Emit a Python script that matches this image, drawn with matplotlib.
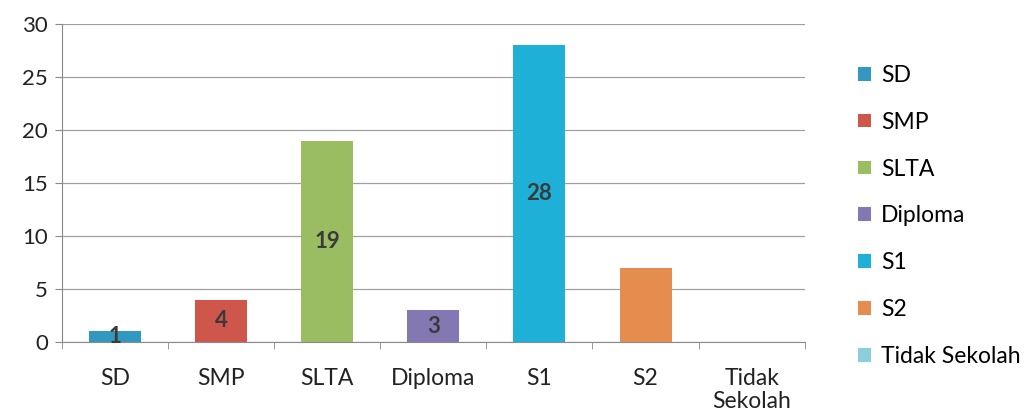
import numpy as np
import matplotlib
matplotlib.use("Agg")
import matplotlib.pyplot as plt
from matplotlib.patches import Patch

plt.rcParams['font.family'] = ['Lato', 'DejaVu Sans']

# data
categories = ["SD", "SMP", "SLTA", "Diploma", "S1", "S2", "Tidak Sekolah"]
tick_labels = ["SD", "SMP", "SLTA", "Diploma", "S1", "S2", "Tidak\nSekolah"]
values = [1, 4, 19, 3, 28, 7, 0]
shown_labels = ["1", "4", "19", "3", "28", "", ""]
colors = ["#3398c0", "#cf564a", "#9bbd62", "#8478b2", "#1eb0d6", "#e58d4e", "#8ccfdc"]

fig = plt.figure(figsize=(10.33, 4.12), dpi=100)
ax = fig.add_axes([0.060, 0.170, 0.719, 0.772])

x = np.arange(len(categories))
bars = ax.bar(x, values, width=0.49, color=colors, zorder=3)

for b, lab in zip(bars, shown_labels):
    if lab:
        ax.text(b.get_x() + b.get_width() / 2, b.get_height() / 2, lab,
                ha="center", va="center", fontsize=16, color="#3a3a3a",
                fontweight="bold", zorder=4)

ax.set_xlim(-0.5, len(categories) - 0.5)
ax.set_ylim(0, 30)
ax.set_yticks(range(0, 31, 5))
ax.yaxis.grid(True, color="#a0a0a0", linewidth=0.9, zorder=0)
ax.set_axisbelow(True)

ax.set_xticks(x)
ax.set_xticklabels(tick_labels, fontsize=16.5, color="#222222", linespacing=1.08)
ax.tick_params(axis="x", length=0, pad=19)
ax.set_xticks(np.arange(-0.5, len(categories), 1), minor=True)
ax.tick_params(axis="x", which="minor", length=5, color="#8a8a8a")
ax.tick_params(axis="y", labelsize=16, labelcolor="#222222", length=5,
               color="#8a8a8a", pad=5)

for s in ["top", "right"]:
    ax.spines[s].set_visible(False)
ax.spines["left"].set_color("#8a8a8a")
ax.spines["bottom"].set_color("#8a8a8a")

handles = [Patch(facecolor=c, label=n) for c, n in zip(colors, categories)]
fig.legend(handles=handles, loc="upper left", bbox_to_anchor=(0.822, 0.865),
           frameon=False, fontsize=16.5, handlelength=0.55, handleheight=0.55,
           handletextpad=0.45, labelspacing=1.13, borderaxespad=0)

fig.savefig("out.png", dpi=100, facecolor="white")
